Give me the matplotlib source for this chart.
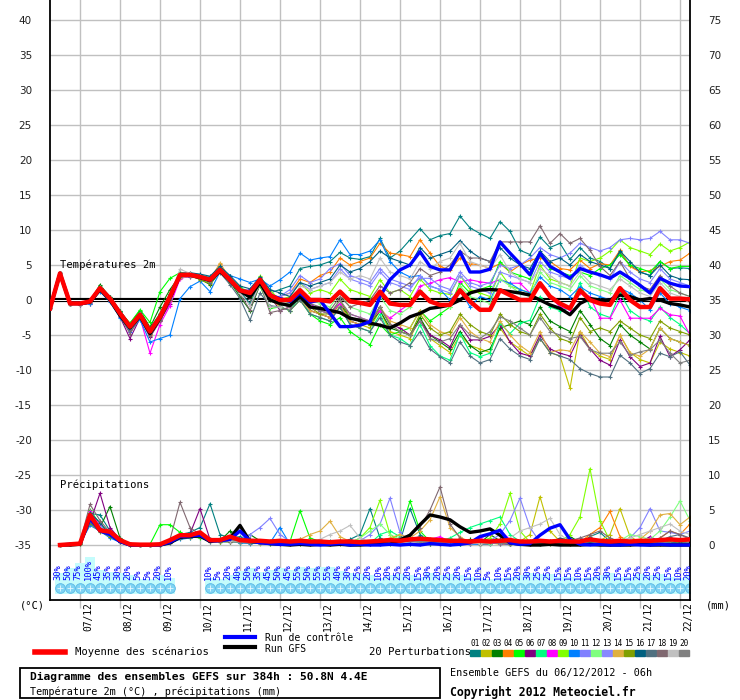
import numpy as np
import matplotlib.pyplot as plt
from matplotlib.transforms import blended_transform_factory

W, H = 740, 700
MONO = 'DejaVu Sans Mono'

steps = np.arange(65)          # 6h steps, 0..384h
precip_steps = np.arange(1, 65)

dates = ['07/12', '08/12', '09/12', '10/12', '11/12', '12/12', '13/12', '14/12',
         '15/12', '16/12', '17/12', '18/12', '19/12', '20/12', '21/12', '22/12']
date_steps = [3, 7, 11, 15, 19, 23, 27, 31, 35, 39, 43, 47, 51, 55, 59, 63]

member_colors = ['#008080', '#c0c000', '#008000', '#ff8000', '#00ff00', '#800080',
                 '#00ff80', '#ff00ff', '#80ff00', '#0080ff', '#8080ff', '#80ff80',
                 '#8888ff', '#e0b040', '#80a000', '#006080', '#507080', '#806870',
                 '#c0c0c0', '#808080']

# snow probability (%) per 6h interval
snow_pct = [30, 50, 75, 100, 45, 35, 30, 20, 5, 5, 20, 10, 0, 0, 0, 10, 5, 20, 40, 50,
            35, 45, 50, 45, 55, 50, 55, 55, 40, 30, 25, 20, 10, 20, 25, 20, 15, 30, 20, 25,
            20, 15, 10, 5, 10, 15, 20, 30, 25, 25, 15, 15, 10, 15, 20, 30, 15, 15, 25, 20,
            25, 15, 10, 20]

# ---- temperature 2m (deg C) ----
t_mean = [-1.2, 3.8, -0.5, -0.5, -0.2, 1.7, 0.2, -1.9, -3.8, -2.1, -4.5, -2.4, 0.5, 3.6, 3.6, 3.3,
          2.9, 4.3, 2.9, 1.4, 1.0, 2.9, 0.7, 0.0, 0.0, 1.4, 0.0, 0.0, -0.2, 1.2, -0.2, -0.4,
          -0.7, 1.2, -0.5, -0.7, -0.7, 1.2, -0.2, -0.7, -0.7, 1.4, -0.2, -1.4, -1.4, 1.4, 0.7, 0.0,
          0.0, 2.4, 0.5, -0.5, -1.2, 1.4, 0.0, -0.5, -0.7, 1.7, 0.0, -1.0, -1.0, 1.7, 0.2, 0.2, 0.1]
t_control = [-1.2, 3.8, -0.5, -0.5, -0.2, 1.7, 0.2, -1.9, -3.8, -2.1, -4.5, -2.4, 0.5, 3.6, 3.6, 3.3,
             2.9, 4.3, 2.9, 1.4, 1.0, 2.9, 0.7, 0.2, -0.2, 1.0, -0.3, 0.0, -1.9, -3.8, -3.8, -3.6,
             -3.1, 0.5, 2.9, 4.3, 5.0, 6.9, 4.8, 4.3, 4.3, 6.9, 4.0, 4.0, 4.4, 8.3, 6.7, 5.2,
             3.6, 6.7, 4.8, 4.0, 3.1, 4.5, 4.0, 3.6, 3.1, 4.0, 3.1, 2.1, 1.0, 3.1, 2.4, 2.0, 1.9]
t_gfs = [-1.2, 3.8, -0.5, -0.5, -0.3, 1.5, 0.0, -2.2, -4.0, -2.3, -4.8, -2.6, 0.3, 3.5, 3.6, 3.2,
         2.8, 4.1, 2.8, 1.3, 0.4, 2.5, 0.0, -0.5, -0.8, 0.5, -1.0, -1.2, -1.5, -1.8, -2.6, -2.9,
         -3.3, -3.6, -4.0, -3.3, -2.4, -1.9, -1.2, -1.0, -0.7, 0.0, 1.0, 1.4, 1.5, 1.4, 1.2, 1.0,
         0.7, 0.0, -0.7, -1.2, -2.1, -0.5, 0.2, 0.0, 0.0, 0.7, 0.5, 0.0, 0.2, 0.0, -0.5, -0.7, -1.0]

t01 = [-1.2, 3.8, -0.5, -0.6, -0.3, 1.9, 0.5, -1.5, -3.5, -1.8, -4.0, -2.0, 0.8, 3.9, 3.8, 3.6,
       3.2, 4.6, 3.4, 1.2, -0.5, 2.5, 1.0, 1.5, 2.0, 4.5, 4.8, 5.0, 5.5, 6.8, 6.0, 5.8,
       6.2, 8.8, 6.0, 7.0, 8.6, 10.2, 8.6, 9.2, 9.5, 12.0, 10.3, 9.5, 8.8, 11.2, 9.8, 7.1,
       6.5, 9.0, 7.5, 8.1, 5.8, 7.5, 6.0, 5.5, 4.5, 6.8, 5.0, 4.0, 3.5, 5.5, 4.5, 4.6, 4.5]
t02 = [-1.2, 3.8, -0.4, -0.5, -0.1, 1.5, 0.0, -2.1, -4.0, -2.3, -4.8, -2.8, 0.2, 3.3, 3.5, 3.0,
       2.6, 4.1, 2.5, 1.6, 1.2, 3.1, 0.5, -0.5, -1.0, 0.8, -1.5, -2.0, -2.5, -0.5, -3.0, -3.5,
       -4.0, -1.5, -4.5, -5.0, -5.5, -2.5, -5.5, -6.5, -7.5, -5.0, -6.5, -7.0, -7.5, -4.0, -6.0, -7.0,
       -8.0, -5.5, -7.5, -8.0, -12.6, -4.5, -7.0, -8.0, -8.5, -5.0, -7.5, -8.5, -9.0, -6.0, -7.0, -7.5, -8.0]
t03 = [-1.2, 3.8, -0.6, -0.4, -0.2, 2.2, 0.4, -1.6, -3.4, -1.5, -3.9, -1.0, 1.5, 3.5, 3.4, 3.0,
       2.2, 4.0, 2.6, 0.5, -1.5, 2.2, 0.0, -0.8, -0.5, 1.0, -1.0, -1.5, -2.0, -0.5, -2.5, -3.0,
       -3.5, -1.5, -4.0, -4.5, -5.0, -2.5, -5.0, -6.0, -7.0, -4.5, -6.5, -7.5, -7.0, -4.0, -3.5, -3.0,
       -3.5, -1.0, -3.0, -3.8, -4.5, -1.5, -3.5, -5.5, -6.5, -3.5, -5.0, -6.0, -7.0, -4.0, -5.5, -6.0, -6.5]
t04 = [-1.2, 3.8, -0.5, -0.5, -0.3, 1.6, 0.1, -2.0, -4.2, -2.2, -5.0, -2.9, -0.2, 3.4, 3.7, 3.4,
       3.0, 5.2, 3.0, 1.5, 0.8, 2.6, 0.3, 0.5, 1.0, 3.0, 2.5, 3.5, 4.0, 6.0, 5.0, 5.5,
       6.0, 8.1, 6.7, 6.5, 6.2, 8.6, 6.7, 4.8, 4.3, 6.0, 5.2, 5.0, 4.5, 5.2, 4.0, 5.0,
       5.7, 6.0, 5.5, 4.5, 4.3, 5.7, 4.5, 5.2, 5.0, 7.1, 4.8, 4.0, 4.2, 4.8, 5.5, 5.7, 6.7]
t05 = [-1.2, 3.8, -0.5, -0.6, -0.1, 1.8, 0.3, -1.7, -3.3, -1.4, -3.2, 1.2, 3.1, 3.9, 3.6, 3.4,
       3.0, 4.2, 3.2, 1.8, 0.5, 2.0, -1.2, -1.0, -1.5, 0.0, -2.0, -3.0, -3.5, -2.5, -4.5, -5.5,
       -6.4, -3.5, -5.0, -4.5, -4.0, -1.5, -3.0, -2.0, -1.0, 2.5, 1.0, 1.5, 2.0, 5.5, 4.0, 3.5,
       3.0, 6.5, 4.5, 4.0, 3.5, 4.0, 3.5, 4.5, 5.0, 6.5, 5.0, 4.5, 4.0, 5.5, 4.5, 4.8, 4.8]
t06 = [-1.2, 3.8, -0.5, -0.7, -0.5, 1.4, -0.2, -2.4, -5.5, -2.6, -5.3, -3.0, -0.5, 3.2, 3.3, 3.1,
       2.8, 4.5, 2.7, 1.3, 0.7, 2.7, 0.6, -1.5, -1.0, 0.5, -1.5, -2.0, -2.5, -1.0, -3.0, -3.5,
       -3.0, -1.0, -3.5, -4.0, -5.0, -3.0, -5.0, -5.7, -6.7, -3.6, -5.7, -5.7, -5.2, -3.5, -6.0, -7.6,
       -8.0, -5.0, -7.0, -7.6, -8.0, -5.0, -7.0, -8.6, -9.3, -5.7, -8.1, -9.5, -9.0, -5.2, -8.1, -7.1, -5.7]
t07 = [-1.2, 3.8, -0.4, -0.5, -0.2, 1.7, 0.3, -1.8, -3.7, -2.0, -4.2, -2.2, 0.7, 3.7, 3.6, 3.2,
       2.9, 4.4, 3.1, 1.7, 1.3, 3.0, 0.9, -1.0, -1.5, 0.5, -2.0, -2.5, -3.0, -1.0, -3.5, -4.0,
       -4.5, -2.0, -5.0, -5.5, -6.5, -3.5, -6.5, -8.0, -8.6, -4.8, -7.5, -8.1, -7.6, -3.3, -4.8, -3.3,
       -2.9, 0.5, -1.0, -1.5, -1.2, 2.5, -1.0, -2.0, -2.5, 1.0, -1.5, -2.5, -3.0, -1.0, -2.5, -3.5, -4.8]
t08 = [-1.2, 3.8, -0.5, -0.4, -0.4, 1.5, 0.0, -2.2, -4.5, -2.5, -7.6, -3.5, -0.8, 3.0, 3.5, 3.3,
       2.9, 4.2, 2.9, 1.2, 1.5, 3.2, 1.2, -0.5, -1.0, 1.0, -0.5, -1.5, -2.0, -0.5, -2.0, -2.5,
       -3.0, -1.5, -2.6, -1.5, -0.5, 2.0, 2.4, 2.9, 3.2, 2.6, 2.9, 2.6, 2.4, 2.9, 2.4, 2.4,
       1.0, 2.0, 0.5, -1.0, -1.4, 1.0, 0.5, -2.6, -2.6, 0.0, -2.6, -2.6, -2.6, -1.2, -2.1, -2.3, -5.0]
t09 = [-1.2, 3.8, -0.5, -0.5, -0.2, 1.9, 0.4, -1.8, -3.6, -1.9, -4.1, -2.1, 0.6, 3.5, 3.7, 3.5,
       3.1, 4.3, 2.9, 1.4, 1.1, 3.4, 1.4, 0.0, 0.5, 2.5, 1.0, 1.5, 1.0, 3.0, 1.5, 1.0,
       0.5, 2.9, 1.0, 1.5, 0.5, 3.0, 1.5, 1.0, 0.8, 3.5, 1.5, 1.0, 0.5, 4.0, 2.0, 1.5,
       1.0, 5.0, 3.0, 2.5, 2.0, 6.0, 5.5, 6.0, 7.0, 8.6, 7.5, 7.0, 6.5, 8.0, 7.0, 7.5, 8.3]
t10 = [-1.2, 3.8, -0.5, -0.6, -0.5, 1.2, -0.3, -2.5, -4.5, -2.8, -6.0, -5.5, -5.0, 0.2, 1.9, 2.7,
       1.2, 4.0, 3.5, 3.0, 2.5, 3.0, 2.0, 2.9, 4.0, 6.7, 5.7, 6.0, 6.2, 8.6, 6.5, 6.5,
       7.0, 8.6, 5.5, 4.0, 3.3, 3.5, 2.0, 1.5, 0.0, 1.5, -1.0, 0.5, 0.0, 2.9, 2.4, 1.5,
       1.0, 3.3, 2.0, 1.5, 0.5, 1.9, 1.0, 0.5, 0.0, 1.7, 1.0, 0.0, -1.4, 1.0, -0.5, -1.0, -1.5]
t11 = [-1.2, 3.8, -0.5, -0.5, -0.2, 1.6, 0.1, -2.0, -3.9, -2.2, -4.6, -2.6, 0.3, 3.6, 3.5, 3.2,
       2.8, 4.2, 2.8, 1.3, 0.8, 2.8, 0.4, 0.5, 1.5, 3.5, 2.5, 3.0, 4.5, 5.2, 3.5, 3.0,
       2.5, 4.5, 3.0, 2.5, 2.0, 3.1, 3.1, 2.0, 1.5, 4.0, 2.5, 2.0, 2.5, 5.0, 4.5, 5.0,
       6.0, 7.5, 6.5, 6.0, 6.7, 8.1, 7.5, 7.0, 7.5, 8.6, 8.8, 8.6, 8.8, 9.8, 8.6, 8.6, 8.1]
t12 = [-1.2, 3.8, -0.5, -0.5, -0.1, 1.8, 0.2, -1.7, -3.6, -2.0, -4.3, -1.8, 1.0, 3.8, 3.7, 3.4,
       3.0, 4.4, 3.0, 1.6, 1.0, 2.9, 0.8, 0.0, -0.5, 1.5, 0.0, -0.5, -1.0, 1.0, -1.0, -1.5,
       -2.0, 0.5, -1.5, -2.0, -1.0, 1.5, 0.0, -0.5, -1.0, 2.0, 0.5, 0.0, -0.5, 3.0, 2.0, 1.0,
       0.5, 4.0, 2.5, 2.0, 1.5, 3.5, 2.0, 1.5, 1.0, 3.5, 2.5, 1.5, 1.0, 3.0, 1.5, 1.0, 0.5]
t13 = [-1.2, 3.8, -0.6, -0.6, -0.3, 1.7, 0.2, -1.9, -3.9, -2.1, -4.4, -2.3, 0.4, 3.6, 3.5, 3.3,
       2.9, 4.3, 2.8, 1.3, 0.9, 2.8, 0.6, 0.5, 1.0, 2.5, 1.5, 2.0, 2.5, 4.5, 3.0, 2.5,
       2.0, 4.0, 2.5, 2.0, 1.5, 3.5, 2.0, 1.5, 1.0, 3.5, 2.0, 1.5, 1.0, 4.0, 3.5, 3.0,
       2.5, 5.5, 4.0, 3.5, 3.0, 5.0, 4.0, 3.5, 3.0, 5.5, 4.0, 3.0, 2.5, 4.5, 3.0, 2.5, 2.0]
t14 = [-1.2, 3.8, -0.5, -0.5, -0.3, 1.6, 0.0, -2.0, -4.0, -2.2, -4.9, -2.9, 0.0, 3.2, 3.4, 3.0,
       2.6, 5.3, 3.0, 1.5, 1.0, 2.7, 0.2, -1.0, -1.5, 0.0, -1.5, -2.0, -2.5, -1.0, -3.0, -3.5,
       -3.0, -1.0, -3.0, -3.5, -4.0, -1.5, -3.5, -4.5, -5.0, -2.5, -4.5, -5.5, -6.0, -3.0, -5.0, -6.5,
       -7.5, -4.5, -7.5, -7.1, -7.3, -4.5, -6.0, -7.6, -8.1, -5.0, -7.6, -8.0, -7.0, -4.0, -5.5, -6.0, -6.5]
t15 = [-1.2, 3.8, -0.5, -0.4, -0.2, 1.8, 0.3, -1.8, -3.7, -2.0, -4.4, -2.2, 0.6, 3.4, 3.6, 2.9,
       2.3, 4.0, 2.8, 1.2, 0.6, 2.6, 0.3, -0.5, -1.0, 0.5, -1.0, -2.0, -2.0, 0.0, -2.5, -3.0,
       -3.5, -1.0, -3.5, -4.5, -5.0, -2.0, -4.0, -5.0, -4.5, -2.0, -3.5, -4.5, -5.0, -2.0, -3.5, -4.5,
       -5.0, -2.0, -4.0, -5.5, -6.0, -2.5, -4.5, -4.0, -4.5, -3.0, -4.0, -5.0, -5.5, -3.0, -4.0, -4.5, -5.0]
t16 = [-1.2, 3.8, -0.5, -0.6, -0.2, 1.8, 0.4, -1.7, -3.5, -1.9, -4.1, -2.0, 0.9, 3.8, 3.9, 3.7,
       3.4, 4.8, 3.5, 2.0, 1.6, 3.3, 1.5, 1.0, 0.5, 2.5, 2.0, 2.5, 3.0, 5.0, 4.0, 4.5,
       5.5, 7.0, 6.0, 5.5, 5.0, 7.5, 6.0, 6.5, 7.0, 8.5, 7.0, 6.0, 5.5, 7.5, 6.0, 5.0,
       4.5, 7.0, 5.5, 6.0, 5.0, 6.5, 5.5, 5.0, 4.5, 7.0, 5.5, 4.0, 3.5, 5.0, 3.5, 3.0, 2.9]
t17 = [-1.2, 3.8, -0.5, -0.5, -0.4, 1.5, -0.1, -2.2, -4.3, -2.4, -4.9, -2.8, 0.1, 3.3, 3.4, 3.1,
       2.5, 3.9, 2.2, 0.2, -2.9, 1.0, -0.8, -1.0, -1.5, 0.0, -2.0, -2.5, -3.0, -1.0, -3.5, -4.0,
       -4.5, -2.5, -5.0, -6.0, -6.5, -4.5, -7.0, -8.1, -9.0, -6.0, -8.0, -9.0, -8.5, -5.5, -7.0, -8.0,
       -8.5, -5.5, -7.5, -8.0, -8.5, -9.8, -10.5, -11.0, -11.0, -7.9, -9.0, -10.5, -9.8, -7.6, -8.1, -7.4, -9.3]
t18 = [-1.2, 3.8, -0.5, -0.6, -0.3, 1.7, 0.1, -2.3, -4.8, -2.5, -5.2, -3.0, 0.0, 3.5, 3.6, 3.2,
       2.7, 4.2, 2.7, 0.8, -1.4, 2.4, -1.8, -1.5, -1.0, 0.5, -0.5, -1.0, -1.5, 0.5, -1.0, -0.5,
       0.0, 2.0, 1.0, 1.5, 2.5, 4.5, 3.5, 4.0, 5.0, 7.0, 6.0, 6.0, 5.5, 8.3, 8.3, 8.3,
       8.3, 10.6, 8.1, 9.5, 8.1, 8.8, 7.1, 4.8, 3.5, 5.5, 3.0, 2.0, 1.5, 3.5, 2.0, 1.0, 0.5]
t19 = [-1.2, 3.8, -0.5, -0.5, -0.2, 1.8, 0.2, -1.9, -3.8, -2.0, -4.5, -2.3, 0.5, 4.4, 3.8, 3.4,
       3.0, 4.3, 2.9, 1.0, -0.8, 2.3, -1.0, -1.0, -0.5, 2.0, 1.5, 2.0, 2.5, 4.0, 3.0, 3.5,
       3.0, 6.0, 4.0, 3.5, 3.0, 5.5, 4.5, 5.5, 6.0, 8.1, 5.5, 5.0, 4.5, 6.5, 4.0, 3.0,
       2.5, 4.5, 3.5, 2.5, 2.0, 4.0, 2.5, 2.0, 1.5, 3.0, 2.0, 1.0, 0.5, 2.5, 1.0, 0.5, -0.5]
t20 = [-1.2, 3.8, -0.5, -0.5, -0.2, 1.6, 0.2, -2.0, -4.0, -2.2, -4.6, -2.5, 0.4, 3.6, 3.5, 3.2,
       2.8, 4.3, 2.9, 1.4, 0.2, 2.6, 0.1, -0.5, -1.0, 0.5, -1.0, -1.5, -2.0, 0.0, -2.0, -2.5,
       -3.0, -1.0, -3.5, -4.5, -5.0, -3.0, -5.5, -6.0, -5.5, -3.5, -5.0, -5.5, -4.5, -2.4, -3.0, -4.0,
       -5.0, -2.5, -4.5, -5.0, -5.5, -5.2, -7.1, -7.6, -7.6, -6.0, -7.9, -7.4, -7.1, -5.7, -7.6, -9.0, -8.6]

# ---- 6h precipitation (mm), steps 1..64 ----
p_mean = [0.0, 0.1, 0.2, 4.3, 2.1, 1.9, 0.7, 0.1, 0.05, 0.05, 0.1, 0.7, 1.4, 1.4, 1.8, 0.7,
          0.7, 1.2, 0.7, 0.6, 0.6, 0.5, 0.6, 0.5, 0.6, 0.5, 0.5, 0.4, 0.5, 0.5, 0.4, 0.5,
          0.6, 0.7, 0.6, 0.8, 0.9, 0.8, 0.7, 0.6, 0.6, 0.5, 0.6, 0.5, 0.6, 0.7, 0.5, 0.5,
          0.6, 0.5, 0.6, 0.5, 0.5, 0.8, 0.6, 0.5, 0.6, 0.5, 0.6, 0.6, 0.7, 0.8, 0.7, 0.8]
p_control = [0.0, 0.1, 0.2, 3.8, 2.0, 1.5, 0.5, 0.0, 0.0, 0.0, 0.0, 0.4, 1.2, 1.3, 1.4, 0.6,
             0.6, 0.8, 2.0, 0.6, 0.3, 0.2, 0.1, 0.1, 0.2, 0.1, 0.0, 0.1, 0.2, 0.0, 0.1, 0.0,
             0.0, 0.1, 0.0, 0.1, 0.0, 0.2, 0.1, 0.0, 0.1, 0.3, 1.2, 1.6, 2.1, 0.3, 0.1, 0.2,
             1.4, 2.4, 2.9, 0.8, 0.1, 0.0, 0.1, 0.0, 0.0, 0.1, 0.0, 0.0, 0.1, 0.0, 0.0, 0.0]
p_gfs = [0.0, 0.0, 0.1, 4.0, 2.2, 1.6, 0.5, 0.0, 0.0, 0.0, 0.0, 0.3, 1.1, 1.2, 1.3, 0.5,
         0.7, 1.0, 2.8, 0.5, 0.4, 0.2, 0.1, 0.0, 0.1, 0.0, 0.1, 0.0, 0.1, 0.0, 0.0, 0.1,
         0.2, 0.1, 0.7, 1.4, 2.9, 4.3, 4.0, 3.6, 2.6, 1.8, 2.0, 2.3, 1.4, 0.3, 0.1, 0.0,
         0.0, 0.1, 0.0, 0.0, 0.0, 0.1, 0.0, 0.0, 0.0, 0.0, 0.1, 0.0, 0.0, 0.0, 0.0, 0.0]

p01 = [0.0, 0.1, 0.3, 4.5, 4.3, 2.0, 0.8, 0.1, 0.0, 0.0, 0.1, 0.4, 1.5, 1.8, 2.5, 5.9,
       1.5, 1.0, 1.2, 0.8, 0.5, 0.3, 0.6, 0.4, 0.8, 0.5, 0.3, 0.6, 0.4, 0.8, 1.5, 5.2,
       1.0, 0.3, 0.5, 5.2, 1.5, 0.4, 0.2, 0.1, 0.3, 0.5, 0.2, 0.1, 0.8, 0.3, 0.5, 0.2,
       0.1, 0.6, 0.4, 0.2, 0.3, 1.2, 1.8, 0.5, 0.3, 0.1, 0.6, 0.4, 0.3, 0.8, 0.2, 0.4]
p02 = [0.0, 0.1, 0.2, 3.5, 2.0, 1.8, 0.6, 0.0, 0.0, 0.0, 0.0, 0.5, 1.2, 1.0, 1.5, 0.6,
       0.5, 0.8, 0.6, 0.3, 0.2, 0.5, 0.3, 0.2, 0.4, 0.6, 0.3, 0.2, 0.5, 0.3, 0.2, 0.1,
       0.4, 0.6, 0.2, 0.1, 0.3, 0.5, 0.3, 0.2, 0.1, 0.2, 0.4, 0.3, 0.1, 0.2, 0.5, 1.5,
       6.9, 2.0, 0.5, 0.3, 0.2, 0.4, 0.6, 1.5, 5.2, 1.2, 0.4, 0.3, 0.2, 0.5, 0.8, 0.3]
p03 = [0.0, 0.1, 0.3, 3.0, 2.5, 5.5, 1.0, 0.1, 0.0, 0.0, 0.1, 0.6, 1.5, 1.3, 1.6, 0.8,
       0.6, 2.0, 0.5, 1.5, 0.6, 0.4, 0.3, 0.5, 0.2, 0.4, 0.6, 0.3, 0.5, 0.2, 0.4, 0.3,
       0.2, 0.5, 0.8, 0.4, 0.3, 0.6, 0.5, 0.2, 0.4, 0.8, 0.3, 1.5, 0.6, 0.2, 0.3, 0.1,
       0.3, 0.2, 0.5, 1.2, 0.4, 0.3, 0.2, 0.6, 0.4, 0.3, 0.2, 0.5, 0.3, 0.2, 0.4, 0.2]
p04 = [0.0, 0.1, 0.2, 3.8, 2.5, 1.2, 0.5, 0.1, 0.0, 0.0, 0.0, 0.3, 1.0, 1.4, 1.2, 0.5,
       0.8, 0.5, 0.6, 0.4, 0.5, 0.3, 0.2, 0.4, 0.3, 0.2, 0.5, 0.3, 0.2, 0.4, 0.3, 0.2,
       0.5, 0.4, 1.0, 0.6, 0.3, 0.5, 0.2, 0.1, 0.2, 0.3, 0.1, 0.2, 0.4, 0.2, 0.1, 0.3,
       0.2, 0.5, 0.3, 0.2, 0.4, 1.5, 2.5, 4.8, 1.2, 0.5, 0.3, 0.2, 1.0, 2.0, 1.5, 3.0]
p05 = [0.0, 0.1, 0.4, 5.0, 3.0, 1.5, 0.6, 0.1, 0.0, 0.1, 2.9, 2.9, 1.8, 1.2, 1.0, 0.6,
       0.5, 0.8, 0.3, 0.4, 0.3, 0.6, 0.4, 0.5, 4.9, 1.0, 0.5, 0.3, 0.4, 0.2, 0.3, 0.5,
       0.6, 0.8, 1.5, 6.3, 2.0, 0.5, 0.3, 0.2, 0.1, 0.4, 0.2, 0.3, 0.5, 0.2, 0.1, 0.3,
       0.2, 0.4, 0.3, 0.1, 0.2, 0.3, 0.5, 0.2, 0.3, 0.4, 0.2, 0.3, 0.5, 0.3, 0.2, 0.4]
p06 = [0.0, 0.1, 0.3, 3.2, 7.4, 2.5, 0.8, 0.1, 0.0, 0.0, 0.1, 0.4, 1.0, 1.6, 5.2, 0.8,
       0.6, 0.7, 0.4, 0.5, 0.3, 0.4, 0.2, 0.3, 0.5, 0.3, 0.2, 0.4, 0.3, 0.2, 0.5, 0.3,
       0.2, 0.3, 0.4, 0.2, 0.5, 0.3, 0.2, 0.1, 0.3, 0.2, 0.4, 0.3, 0.2, 0.1, 0.3, 0.2,
       0.4, 0.2, 0.3, 0.2, 0.4, 0.3, 0.2, 0.5, 0.3, 0.2, 0.4, 1.2, 0.5, 0.3, 0.2, 0.3]
p07 = [0.0, 0.1, 0.3, 4.0, 2.2, 1.5, 0.6, 0.1, 0.0, 0.0, 0.1, 0.5, 1.3, 1.5, 1.2, 0.7,
       0.9, 0.6, 0.5, 0.3, 0.4, 0.2, 0.5, 0.3, 0.4, 0.6, 0.3, 0.2, 0.5, 0.4, 0.3, 0.2,
       1.5, 2.0, 1.2, 0.5, 0.3, 0.4, 0.6, 1.0, 1.8, 2.5, 3.0, 3.5, 4.0, 1.5, 0.5, 0.3,
       0.2, 0.4, 0.6, 0.3, 0.2, 0.4, 0.3, 0.2, 0.5, 0.3, 0.2, 0.4, 0.3, 0.2, 0.5, 0.3]
p08 = [0.0, 0.1, 0.3, 4.8, 2.8, 1.4, 0.5, 0.1, 0.0, 0.0, 0.0, 0.4, 1.1, 1.3, 1.4, 0.9,
       0.7, 0.6, 0.8, 0.4, 0.3, 0.5, 0.2, 0.4, 0.3, 0.5, 0.2, 0.4, 0.3, 0.6, 0.4, 0.2,
       0.5, 0.3, 0.2, 0.4, 0.6, 0.8, 1.2, 0.5, 0.3, 0.6, 1.0, 1.5, 2.1, 0.8, 0.4, 0.2,
       0.3, 0.2, 0.4, 0.3, 0.2, 0.5, 0.3, 0.2, 0.4, 0.3, 0.2, 1.0, 0.5, 0.3, 0.2, 0.4]
p09 = [0.0, 0.1, 0.3, 3.6, 2.4, 1.6, 0.7, 0.1, 0.0, 0.0, 0.1, 0.6, 1.4, 1.2, 1.5, 0.8,
       0.6, 0.7, 0.5, 0.4, 0.3, 0.4, 0.5, 0.3, 0.6, 0.4, 0.3, 0.5, 0.4, 0.3, 1.0, 2.5,
       6.4, 1.5, 0.5, 0.3, 0.2, 0.4, 0.3, 0.2, 0.1, 0.3, 0.5, 1.0, 3.0, 7.4, 2.0, 0.4,
       0.2, 0.3, 0.5, 1.5, 4.0, 10.9, 3.5, 0.6, 0.3, 0.5, 0.2, 0.4, 0.3, 0.2, 0.4, 0.3]
p10 = [0.0, 0.1, 0.2, 2.8, 2.0, 1.0, 0.4, 0.0, 0.0, 0.0, 0.0, 0.3, 0.8, 1.0, 1.2, 0.5,
       0.4, 0.5, 0.3, 0.2, 0.4, 0.3, 2.5, 0.1, 0.3, 0.2, 0.1, 0.2, 0.3, 0.1, 0.2, 0.1,
       0.2, 0.1, 0.3, 0.2, 0.1, 0.2, 0.3, 0.1, 0.2, 0.1, 0.1, 0.2, 0.3, 0.1, 0.2, 0.1,
       0.1, 0.2, 0.1, 0.3, 0.2, 0.1, 0.2, 0.1, 0.2, 0.1, 0.3, 0.2, 0.1, 0.2, 0.1, 0.2]
p11 = [0.0, 0.1, 0.3, 4.2, 2.6, 1.3, 0.5, 0.1, 0.0, 0.0, 0.1, 0.5, 1.2, 1.4, 1.3, 0.7,
       0.6, 0.5, 0.8, 1.5, 2.5, 3.8, 1.5, 0.5, 0.3, 0.4, 0.2, 0.3, 0.5, 0.3, 0.6, 1.5,
       3.0, 6.7, 1.8, 0.5, 0.3, 0.4, 0.2, 0.3, 0.5, 0.3, 0.2, 0.6, 1.5, 3.5, 6.7, 2.5,
       0.4, 0.3, 0.2, 0.5, 0.3, 0.4, 0.2, 0.3, 0.5, 1.0, 2.5, 5.2, 2.0, 1.8, 1.5, 2.0]
p12 = [0.0, 0.1, 0.3, 3.9, 2.3, 1.4, 0.6, 0.1, 0.0, 0.0, 0.1, 0.5, 1.3, 1.2, 1.4, 0.8,
       0.7, 0.5, 0.4, 0.6, 0.3, 0.4, 0.3, 0.5, 0.4, 0.3, 0.5, 0.2, 0.4, 0.3, 1.0, 2.0,
       3.0, 1.5, 0.8, 0.4, 0.3, 0.2, 0.4, 0.3, 0.2, 0.4, 0.3, 0.2, 0.5, 0.3, 0.2, 0.4,
       0.3, 0.2, 0.4, 0.3, 0.5, 0.3, 0.2, 0.4, 0.6, 1.5, 1.2, 0.8, 2.0, 4.0, 6.3, 3.5]
p13 = [0.0, 0.1, 0.3, 4.4, 2.7, 1.5, 0.6, 0.1, 0.0, 0.0, 0.1, 0.4, 1.2, 1.5, 1.3, 0.6,
       0.6, 0.9, 0.5, 0.4, 0.5, 0.3, 0.4, 0.2, 0.3, 0.5, 0.2, 0.4, 0.3, 0.2, 0.4, 0.3,
       0.2, 0.4, 0.3, 0.5, 0.2, 0.3, 0.4, 0.2, 0.3, 0.2, 0.4, 0.3, 0.2, 0.5, 0.3, 0.2,
       0.4, 0.3, 0.2, 0.4, 1.0, 0.5, 0.3, 0.2, 0.4, 0.3, 0.5, 0.8, 0.4, 0.3, 0.2, 0.4]
p14 = [0.0, 0.1, 0.3, 3.4, 2.1, 1.7, 0.7, 0.1, 0.0, 0.0, 0.1, 0.5, 1.4, 1.1, 1.3, 0.7,
       0.5, 0.6, 0.4, 0.3, 0.5, 0.4, 0.3, 0.6, 0.8, 1.5, 2.0, 3.4, 1.2, 0.5, 0.3, 0.4,
       0.6, 1.0, 1.5, 1.0, 2.0, 3.6, 6.9, 2.5, 1.2, 0.3, 0.2, 0.4, 0.3, 0.2, 0.5, 0.3,
       0.2, 0.4, 0.3, 0.2, 0.3, 0.4, 0.5, 0.3, 0.6, 0.4, 0.8, 2.0, 4.3, 4.5, 2.9, 4.0]
p15 = [0.0, 0.1, 0.2, 3.1, 1.9, 1.2, 0.5, 0.0, 0.0, 0.0, 0.0, 0.4, 1.0, 1.2, 1.1, 0.6,
       0.5, 0.4, 0.6, 0.3, 0.4, 0.2, 0.3, 0.5, 0.2, 0.4, 0.3, 0.2, 0.4, 0.3, 0.2, 0.4,
       0.3, 0.2, 0.5, 0.3, 0.4, 0.2, 0.3, 0.2, 0.4, 0.3, 0.2, 0.5, 0.3, 0.2, 0.4, 0.6,
       0.3, 0.2, 0.4, 0.3, 0.2, 0.4, 0.3, 0.2, 0.4, 0.3, 0.2, 0.5, 0.8, 0.4, 0.3, 0.2]
p16 = [0.0, 0.1, 0.3, 4.6, 3.2, 1.5, 0.6, 0.1, 0.0, 0.0, 0.1, 0.5, 1.3, 1.6, 1.4, 0.9,
       0.8, 0.6, 0.5, 0.4, 0.6, 0.3, 0.5, 0.4, 0.3, 0.5, 0.4, 0.3, 0.6, 0.4, 0.3, 0.5,
       0.4, 0.3, 0.5, 0.8, 1.2, 0.6, 0.4, 0.3, 0.2, 0.4, 0.3, 0.5, 0.6, 0.4, 0.3, 0.2,
       0.4, 0.3, 1.0, 0.6, 0.4, 0.3, 0.5, 0.3, 0.2, 0.4, 0.3, 0.2, 0.4, 0.3, 0.5, 0.3]
p17 = [0.0, 0.1, 0.3, 3.3, 2.0, 1.4, 0.6, 0.1, 0.0, 0.0, 0.1, 0.4, 1.1, 1.3, 1.6, 0.7,
       0.6, 0.7, 0.5, 0.3, 0.4, 0.3, 0.2, 0.4, 0.3, 0.2, 0.4, 0.3, 0.2, 0.5, 0.3, 0.2,
       0.4, 0.6, 0.8, 0.5, 0.3, 0.2, 0.4, 0.3, 0.5, 0.3, 0.2, 0.4, 0.3, 0.2, 0.4, 0.5,
       0.3, 0.6, 0.4, 0.3, 0.2, 0.5, 0.3, 0.2, 0.4, 0.3, 0.2, 0.4, 0.6, 1.2, 1.5, 1.0]
p18 = [0.0, 0.1, 0.4, 5.8, 3.5, 1.8, 0.7, 0.1, 0.0, 0.0, 0.1, 0.8, 6.1, 2.5, 1.5, 0.7,
       0.6, 0.5, 0.4, 0.3, 0.5, 0.4, 0.3, 0.2, 0.4, 0.3, 0.2, 0.5, 0.3, 0.2, 0.4, 0.3,
       0.5, 0.6, 1.0, 1.5, 2.5, 5.0, 8.3, 3.0, 1.0, 0.3, 0.2, 0.4, 0.3, 0.2, 0.4, 0.3,
       0.2, 0.4, 0.3, 0.6, 1.0, 1.5, 2.0, 1.0, 0.5, 0.4, 0.3, 0.6, 1.0, 2.0, 1.5, 0.8]
p19 = [0.0, 0.1, 0.3, 4.1, 2.4, 1.6, 0.6, 0.1, 0.0, 0.0, 0.1, 0.5, 1.3, 1.4, 1.6, 0.8,
       0.7, 0.6, 0.5, 0.4, 0.3, 0.5, 0.4, 0.3, 0.5, 0.4, 0.8, 1.5, 2.0, 2.8, 1.0, 0.4,
       0.3, 0.5, 0.4, 0.3, 0.5, 0.4, 0.3, 0.2, 0.4, 0.3, 0.2, 0.4, 0.6, 1.0, 2.0, 2.5,
       3.0, 3.8, 1.5, 0.5, 0.3, 0.2, 0.4, 0.3, 0.6, 1.0, 1.5, 2.0, 2.5, 3.0, 2.0, 1.5]
p20 = [0.0, 0.1, 0.3, 3.7, 2.2, 1.9, 0.8, 0.1, 0.0, 0.0, 0.1, 0.5, 1.5, 1.3, 1.5, 0.6,
       0.7, 0.8, 0.5, 0.4, 0.3, 0.5, 0.4, 0.3, 0.6, 0.4, 0.3, 0.5, 0.4, 0.3, 0.5, 0.4,
       0.3, 0.5, 0.4, 0.6, 0.5, 0.4, 0.3, 0.5, 0.4, 0.3, 0.5, 0.4, 0.3, 0.2, 0.4, 0.3,
       0.5, 0.4, 0.3, 0.6, 0.5, 0.3, 0.4, 0.3, 0.5, 0.4, 0.3, 0.5, 0.4, 0.3, 0.2, 0.4]

temp_members = [t01, t02, t03, t04, t05, t06, t07, t08, t09, t10,
                t11, t12, t13, t14, t15, t16, t17, t18, t19, t20]
precip_members = [p01, p02, p03, p04, p05, p06, p07, p08, p09, p10,
                  p11, p12, p13, p14, p15, p16, p17, p18, p19, p20]

PRECIP_ZERO = -35   # 0 mm sits on the -35 line of the temperature scale


def fig_xy(x, y):
    """pixel position (from top left) -> figure fraction"""
    return x / W, 1 - y / H


fig = plt.figure(figsize=(W / 100, H / 100), dpi=100)
ax = fig.add_axes([50 / W, 100 / H, 640 / W, 600 / H])
ax.set_xlim(0, 64)
ax.set_ylim(-300 / 7, 300 / 7)

# grid
for v in range(-35, 45, 5):
    ax.axhline(v, color='#c0c0c0', lw=1.0, zorder=0)
for s in date_steps:
    ax.axvline(s, color='#c0c0c0', lw=1.0, zorder=0)
ax.axhline(0, color='black', lw=3.0, zorder=1)
ax.axhline(0, color='white', lw=0.7, zorder=1)

# snow probability strip
bar_x = [k + 1 for k, p in enumerate(snow_pct) if p > 0]
bar_p = [p for p in snow_pct if p > 0]
ax.bar(bar_x, [2.0 + 0.033 * p for p in bar_p], bottom=-42.0, width=1.0,
       color='#c4fcfc', zorder=1)
ax.plot(bar_x, [-41.15] * len(bar_x), ls='none', marker='o', ms=7,
        mfc='#80d4f4', mec='#5ab8e6', mew=0.6, zorder=2)
ax.plot(bar_x, [-41.15] * len(bar_x), ls='none', marker='+', ms=5,
        mec='#e8f8ff', mew=0.6, zorder=2)
for k, p in enumerate(snow_pct):
    if p > 0:
        ax.text(k + 0.8, -40.0, f'{p}%', rotation=90, ha='center', va='bottom',
                fontsize=6.3, family=MONO, color='#0000ff', zorder=3)

# ensemble members
for t, p, c in zip(temp_members, precip_members, member_colors):
    ax.plot(steps, t, color=c, lw=0.8, marker='+', ms=3, mew=0.8, zorder=2)
    ax.plot(precip_steps, [PRECIP_ZERO + v for v in p], color=c, lw=0.8,
            marker='+', ms=3, mew=0.8, zorder=2)

ax.plot(steps, t_gfs, color='black', lw=2.4, zorder=4)
ax.plot(precip_steps, [PRECIP_ZERO + v for v in p_gfs], color='black', lw=2.4, zorder=4)
ax.plot(steps, t_control, color='#0000ff', lw=2.4, zorder=4)
ax.plot(precip_steps, [PRECIP_ZERO + v for v in p_control], color='#0000ff', lw=2.4, zorder=4)
ax.plot(steps, t_mean, color='#ff0000', lw=3.2, zorder=5)
ax.plot(precip_steps, [PRECIP_ZERO + v for v in p_mean], color='#ff0000', lw=3.2, zorder=5)

ax.text(1, 5, 'Températures 2m', fontsize=7.6, family=MONO, va='center', zorder=6)
ax.text(1, -26.4, 'Précipitations', fontsize=7.6, family=MONO, va='center', zorder=6)

# axes and ticks
ax.spines['top'].set_visible(False)
for side in ['left', 'right', 'bottom']:
    ax.spines[side].set_linewidth(1.3)
ax.set_xticks(date_steps)
ax.set_xticklabels([])
ax.tick_params(axis='x', length=6, color='#c0c0c0', width=1.0)
yt = list(range(-35, 45, 5))
ax.set_yticks(yt)
ax.set_yticklabels([str(v) for v in yt], fontsize=7.5, color='#202020')
ax.tick_params(axis='y', length=0, pad=13)
ax2 = ax.twinx()
ax2.set_ylim(ax.get_ylim())
ax2.set_yticks(yt)
ax2.set_yticklabels([str(v + 35) for v in yt], fontsize=7.5, color='#202020')
ax2.tick_params(axis='y', length=0, pad=13)
for sp in ax2.spines.values():
    sp.set_visible(False)

trans = blended_transform_factory(ax.transData, ax.transAxes)
for s, d in zip(date_steps, dates):
    ax.text(s + 0.8, -0.004, d, transform=trans, rotation=90, ha='center', va='top',
            fontsize=6.9, family=MONO)

fig.text(*fig_xy(20, 606), '(°C)', fontsize=7.5, family=MONO, va='center')
fig.text(*fig_xy(706, 606), '(mm)', fontsize=7.5, family=MONO, va='center')

# legend block
fig.add_artist(plt.Line2D([35 / W, 65 / W], [1 - 652 / H] * 2, color='#ff0000', lw=4))
fig.text(*fig_xy(75, 652), 'Moyenne des scénarios', fontsize=7.6, family=MONO, va='center')
fig.add_artist(plt.Line2D([225 / W, 255 / W], [1 - 637 / H] * 2, color='#0000ff', lw=3))
fig.add_artist(plt.Line2D([225 / W, 255 / W], [1 - 647 / H] * 2, color='black', lw=3))
fig.text(*fig_xy(265, 638), 'Run de contrôle', fontsize=7.0, family=MONO, va='center')
fig.text(*fig_xy(265, 649), 'Run GFS', fontsize=7.0, family=MONO, va='center')
fig.text(*fig_xy(369, 652), '20 Perturbations', fontsize=7.6, family=MONO, va='center')
for k, c in enumerate(member_colors):
    x0 = 470 + 11 * k
    fig.add_artist(plt.Rectangle(fig_xy(x0, 656), 10 / W, 6 / H, color=c))
    fig.text(*fig_xy(x0 + 5, 643), f'{k + 1:02d}', fontsize=5.6, family=MONO,
             ha='center', va='center')

fig.add_artist(plt.Rectangle(fig_xy(20, 698), 420 / W, 30 / H, fill=False,
                             ec='black', lw=1.3))
fig.text(*fig_xy(30, 677), 'Diagramme des ensembles GEFS sur 384h : 50.8N 4.4E',
         fontsize=8.1, family=MONO, weight='bold', va='center')
fig.text(*fig_xy(30, 692), 'Température 2m (°C) , précipitations (mm)',
         fontsize=7.3, family=MONO, va='center')
fig.text(*fig_xy(450, 673), 'Ensemble GEFS du 06/12/2012 - 06h',
         fontsize=7.3, family=MONO, va='center')
fig.text(*fig_xy(450, 692), 'Copyright 2012 Meteociel.fr',
         fontsize=8.3, family=MONO, weight='bold', va='center')

fig.savefig('out.png', dpi=100)
